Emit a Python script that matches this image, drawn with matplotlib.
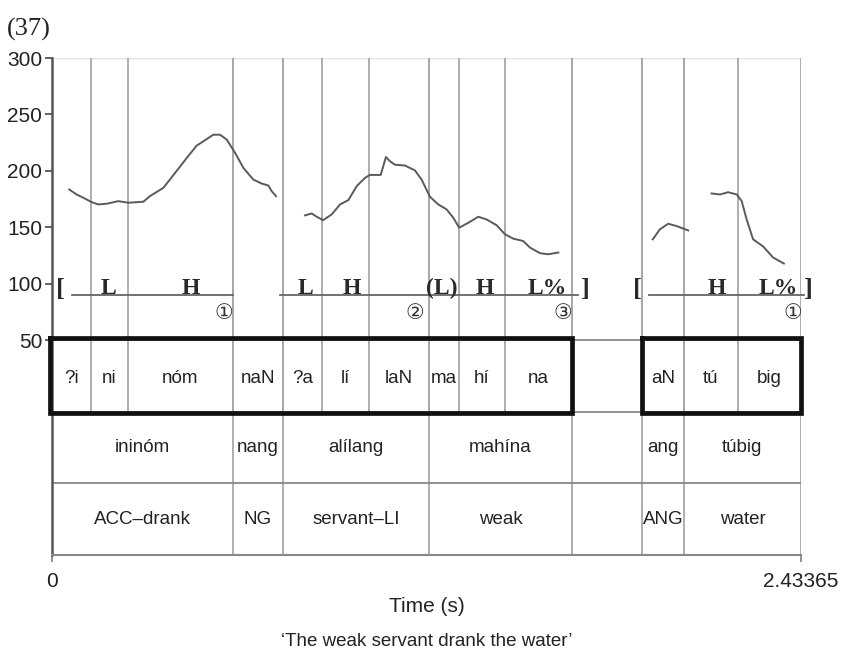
import matplotlib.pyplot as plt

# F0 contour pieces (time in s, pitch in Hz)
f0_t1 = [0.056, 0.080, 0.102, 0.129, 0.150, 0.178, 0.215, 0.248, 0.297, 0.318,
         0.362, 0.400, 0.438, 0.470, 0.503, 0.524, 0.546, 0.568, 0.595, 0.622,
         0.654, 0.681, 0.703, 0.714, 0.728]
f0_hz1 = [183.6, 179.2, 176.3, 172.4, 170.4, 171.0, 173.3, 171.9, 172.8, 177.7,
          185.1, 198.3, 211.6, 222.4, 228.3, 232.1, 232.1, 227.7, 216.0, 202.7,
          192.4, 188.9, 187.1, 182.1, 177.7]

f0_t2 = [0.822, 0.844, 0.860, 0.881, 0.909, 0.936, 0.963, 0.990, 1.017, 1.033,
         1.068, 1.085, 1.098, 1.114, 1.147, 1.179, 1.201, 1.228, 1.255, 1.282,
         1.304, 1.323, 1.353, 1.385, 1.412, 1.445, 1.472, 1.499, 1.531, 1.553,
         1.586, 1.612, 1.645]
f0_hz2 = [160.7, 162.4, 159.5, 156.5, 161.6, 170.4, 174.2, 186.6, 193.9, 196.5,
          196.5, 212.4, 208.6, 205.6, 204.8, 200.6, 192.4, 177.2, 170.4, 166.0,
          158.6, 149.8, 154.2, 159.5, 157.1, 151.9, 143.9, 140.1, 138.0, 132.2,
          127.2, 126.3, 127.8]

f0_t3 = [1.952, 1.975, 2.002, 2.030, 2.067]
f0_hz3 = [139.5, 148.3, 153.3, 151.2, 147.4]

f0_t4 = [2.143, 2.170, 2.197, 2.225, 2.241, 2.257, 2.278, 2.311, 2.343, 2.378]
f0_hz4 = [180.1, 179.2, 181.2, 179.2, 173.3, 157.1, 139.5, 133.1, 123.4, 118.1]

t_end = 2.43365

# syllable tier
syl_bounds = [0.0, 0.127, 0.247, 0.588, 0.750, 0.877, 1.030, 1.225, 1.322,
              1.472, 1.689, 1.917, 2.053, 2.229, t_end]
syl_labels = ["?i", "ni", "nóm", "naN", "?a", "lí", "laN", "ma", "hí", "na",
              "", "aN", "tú", "big"]

# word tier and gloss tier
word_bounds = [0.0, 0.588, 0.750, 1.225, 1.689, 1.917, 2.053, t_end]
word_labels = ["ininóm", "nang", "alílang", "mahína", "", "ang", "túbig"]
gloss_labels = ["ACC\u2013drank", "NG", "servant\u2013LI", "weak", "", "ANG", "water"]

# tones: (time, label)
tones = [(0.182, "L"), (0.452, "H"),
         (0.822, "L"), (0.975, "H"), (1.267, "(L)"), (1.407, "H"), (1.608, "L%"),
         (2.160, "H"), (2.359, "L%")]
brackets = [(0.026, "["), (1.732, "]"), (1.901, "["), (2.458, "]")]
phrase_lines = [(0.065, 0.588), (0.741, 1.708), (1.940, 2.443)]
breaks = [(0.559, "\u2460"), (1.179, "\u2461"), (1.660, "\u2462"), (2.407, "\u2460")]

TIER_H = 63.3
top_tier = 50
ybot = top_tier - 3 * TIER_H

fig = plt.figure(figsize=(8.41, 6.53), dpi=100)
ax = fig.add_axes([52 / 841, 1 - 555 / 653, 749 / 841, 497 / 653])
ax.set_xlim(0, t_end)
ax.set_ylim(ybot, 300)

grid_col = "#a8a8a8"
tier_col = "#888888"

# boundaries: syllables down through tier 1, words all the way down
for b in syl_bounds[1:-1]:
    ax.plot([b, b], [top_tier - TIER_H, 300], color=grid_col, lw=1.3, zorder=1)
for b in word_bounds[1:]:
    ax.plot([b, b], [ybot, 300], color=grid_col, lw=1.3, zorder=1)
ax.axhline(300, color="#e4e4e4", lw=1.0, zorder=0)

for k in range(3):
    ax.axhline(top_tier - k * TIER_H, color=tier_col, lw=1.3, zorder=1)

# thick boxes around the syllable tier
for x0, x1 in [(-0.005, 1.689), (1.917, t_end)]:
    ax.plot([x0, x1, x1, x0, x0],
            [52.5, 52.5, top_tier - TIER_H - 1, top_tier - TIER_H - 1, 52.5],
            color="#111111", lw=3.4, solid_joinstyle="miter", zorder=4,
            clip_on=False)

sans = "Liberation Sans"
for i, lab in enumerate(syl_labels):
    xc = (syl_bounds[i] + syl_bounds[i + 1]) / 2
    ax.text(xc, top_tier - TIER_H / 2 - 2, lab, ha="center", va="center",
            fontsize=13.5, family=sans, color="#222222")
for i in range(len(word_labels)):
    xc = (word_bounds[i] + word_bounds[i + 1]) / 2
    ax.text(xc, top_tier - 1.5 * TIER_H, word_labels[i], ha="center",
            va="center", fontsize=13.5, family=sans, color="#222222")
    ax.text(xc, top_tier - 2.5 * TIER_H, gloss_labels[i], ha="center",
            va="center", fontsize=13.5, family=sans, color="#222222")

# pitch track
for tt, hz in [(f0_t1, f0_hz1), (f0_t2, f0_hz2), (f0_t3, f0_hz3), (f0_t4, f0_hz4)]:
    ax.plot(tt, hz, color="#5a5a5a", lw=1.4, zorder=3)

# tonal annotation
serif = ["Liberation Serif", "DejaVu Serif"]
for x0, x1 in phrase_lines:
    ax.plot([x0, x1], [90, 90], color="#666666", lw=1.3, zorder=2, clip_on=False)
for x, lab in tones:
    ax.text(x, 91.5, lab, ha="center", va="baseline", fontsize=17,
            family=serif, fontweight="bold", color="#2a2a2a", zorder=5)
for x, lab in brackets:
    ax.text(x, 89, lab, ha="center", va="baseline", fontsize=19,
            family=serif, fontweight="bold", color="#2a2a2a", clip_on=False)
for x, lab in breaks:
    ax.text(x, 73.5, lab, ha="center", va="center", fontsize=15,
            family=["DejaVu Serif", "DejaVu Sans", "Noto Sans CJK JP"],
            color="#333333")

# axes styling
for s in ["top", "right"]:
    ax.spines[s].set_visible(False)
ax.spines["left"].set_color("#555555")
ax.spines["left"].set_linewidth(1.8)
ax.spines["bottom"].set_color(tier_col)
ax.spines["bottom"].set_linewidth(1.5)

ax.set_yticks([50, 100, 150, 200, 250, 300])
ax.tick_params(axis="y", direction="out", length=5, width=1.3, color="#555555",
               labelsize=15, labelcolor="#222222", pad=2)
ax.set_xticks([0, t_end])
ax.set_xticklabels(["0", "2.43365"])
ax.tick_params(axis="x", direction="out", length=5, width=1.3, color=tier_col,
               labelsize=15, labelcolor="#222222", pad=7)
for lab in ax.get_xticklabels() + ax.get_yticklabels():
    lab.set_family(sans)

fig.text(427 / 841, 1 - 607 / 653, "Time (s)", ha="center", va="center",
         fontsize=15, family=sans, color="#222222")
fig.text(427 / 841, 1 - 641 / 653, "\u2018The weak servant drank the water\u2019",
         ha="center", va="center", fontsize=13.5, family=sans, color="#222222")
fig.text(7 / 841, 1 - 29 / 653, "(37)", ha="left", va="center", fontsize=19,
         family=serif, color="#222222")

fig.savefig("out.png", dpi=100)
